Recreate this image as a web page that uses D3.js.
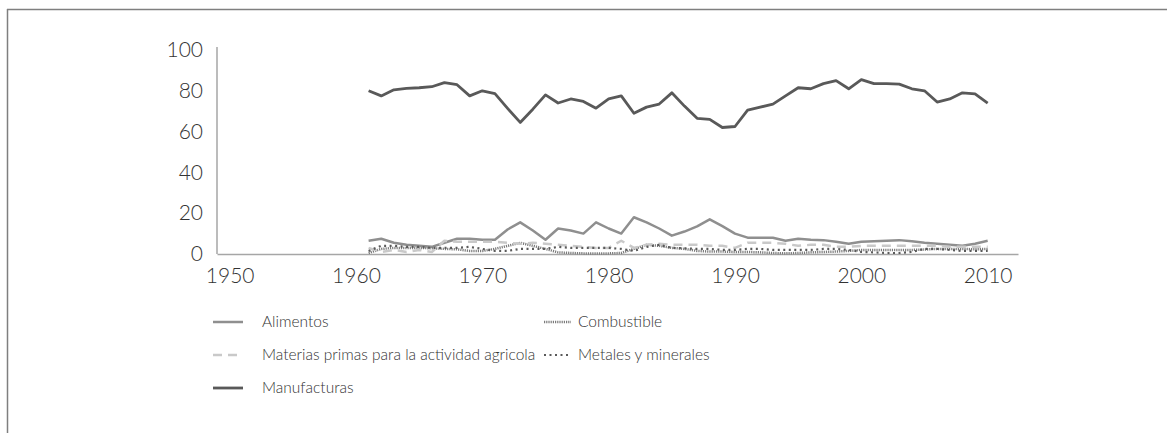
<!DOCTYPE html>
<head>
<meta charset="utf-8">
<style>
body { margin: 0; background: #fff; }
svg { display: block; }
.tick text, .legend text { font-family: "Lato", "Open Sans", sans-serif; font-weight: 300; fill: #333; }
</style>
</head>
<body>
<svg width="1167" height="433"></svg>
<script src="https://d3js.org/d3.v7.min.js"></script>
<script>
var years = d3.range(1961, 2011);
var xTicks = [1950, 1960, 1970, 1980, 1990, 2000, 2010];
var yTicks = [0, 20, 40, 60, 80, 100];

var alimentos = [6.5, 7.5, 5.5, 4.5, 4, 3.5, 5.5, 7.5, 7.5, 7,
  7, 12, 15.5, 11.5, 7, 12.5, 11.5, 10, 15.5, 12.5,
  10, 18, 15.5, 12.5, 9, 11, 13.5, 17, 13.7, 10,
  8, 8, 8, 6.5, 7.5, 7, 6.8, 6, 5, 6,
  6.3, 6.5, 6.8, 6.2, 5.5, 5, 4.5, 4, 5, 6.5];
var materias = [3, 1, 2, 1, 2, 1, 6.5, 6, 6, 6,
  6, 5.5, 5, 5.5, 5, 4.5, 4, 3.5, 3, 3,
  6.5, 3, 4.5, 5, 4.5, 4.5, 4.5, 4, 4, 3,
  5.5, 5.5, 5.5, 5, 4, 4.5, 4.5, 3.5, 3.5, 4,
  4, 4, 4, 4, 4, 4, 3.5, 3.5, 3.5, 3.5];
var combustible = [0.5, 2.5, 3, 3, 3, 2.8, 2.5, 2.3, 1.5, 1.5,
  2.5, 4, 5.5, 4, 2.5, 0.8, 0.5, 0.3, 0.3, 0.3,
  0.5, 2.5, 4.5, 4, 3, 2.5, 1.5, 1.2, 1.2, 1,
  1, 0.8, 0.5, 0.3, 0.5, 0.8, 1, 1.2, 1.5, 2,
  2, 2, 2, 2, 2.2, 2.5, 2.5, 2.5, 2.3, 2.5];
var metales = [1.5, 4, 4, 3.5, 3.5, 3, 3, 3, 3.5, 2.5,
  1.5, 1.5, 2.5, 2.5, 2.5, 3.5, 3, 3, 3, 3,
  2.5, 1.5, 3.5, 4.5, 3, 2.8, 2.5, 2.5, 2, 2,
  2.5, 2.5, 2, 2, 2, 2, 2.5, 2.5, 2, 1,
  0.8, 0.5, 0.5, 1, 2.5, 2.5, 2, 1.5, 1.5, 1.5];
var manufacturas = [80, 77.5, 80.5, 81.2, 81.5, 82, 84, 83, 77.5, 80,
  78.6, 71.4, 64.5, 71, 78, 74, 76, 74.8, 71.5, 76,
  77.5, 69, 72, 73.5, 79, 72.5, 66.5, 66, 62, 62.5,
  70.5, 72, 73.5, 77.5, 81.5, 81, 83.5, 85, 81, 85.5,
  83.5, 83.5, 83.3, 81, 80, 74.5, 76, 79, 78.5, 74];

var series = [
  {name: "Alimentos", values: alimentos, color: "#8f8f8f", width: 2.5, dash: null, col: 0, row: 0},
  {name: "Combustible", values: combustible, color: "#7a7a7a", width: 2.5, dash: "1.2,1", col: 1, row: 0},
  {name: "Materias primas para la actividad agricola", values: materias, color: "#c9c9c9", width: 2.5, dash: "9,6", col: 0, row: 1},
  {name: "Metales y minerales", values: metales, color: "#5a5a5a", width: 2.2, dash: "2,3.5", col: 1, row: 1},
  {name: "Manufacturas", values: manufacturas, color: "#595959", width: 2.8, dash: null, col: 0, row: 2}
];

var svg = d3.select("svg");

// outer frame (top and left edges only)
svg.append("line").attr("x1", 7).attr("x2", 1167).attr("y1", 9.5).attr("y2", 9.5)
  .attr("stroke", "#7f7f7f").attr("stroke-width", 1.5);
svg.append("line").attr("x1", 7.5).attr("x2", 7.5).attr("y1", 9).attr("y2", 433)
  .attr("stroke", "#7f7f7f").attr("stroke-width", 1.5);

var x = d3.scaleLinear().domain([1949, 2012.4]).range([217, 1018]);
var y = d3.scaleLinear().domain([0, 100]).range([254, 50]);

var xAxis = svg.append("g").attr("transform", "translate(0,254)")
  .call(d3.axisBottom(x).tickValues(xTicks).tickFormat(d3.format("d")).tickSize(0).tickPadding(14));
xAxis.select(".domain").attr("stroke", "#a6a6a6").attr("stroke-width", 1.5);
xAxis.selectAll("text").style("font-size", "21px");

var yAxis = svg.append("g").attr("transform", "translate(217,0)")
  .call(d3.axisLeft(y).tickValues(yTicks).tickSize(0).tickPadding(14));
yAxis.select(".domain").attr("stroke", "#a6a6a6").attr("stroke-width", 1.5).attr("d", "M0,47V254");
yAxis.selectAll("text").style("font-size", "21px");

var line = d3.line()
  .x(function(d, i) { return x(years[i]); })
  .y(function(d) { return y(d); });

svg.append("g").selectAll("path")
  .data(series)
  .enter().append("path")
    .attr("fill", "none")
    .attr("stroke", function(d) { return d.color; })
    .attr("stroke-width", function(d) { return d.width; })
    .attr("stroke-dasharray", function(d) { return d.dash; })
    .attr("stroke-linejoin", "round")
    .attr("d", function(d) { return line(d.values); });

var legend = svg.append("g").attr("class", "legend")
  .selectAll("g")
  .data(series)
  .enter().append("g")
    .attr("transform", function(d) { return "translate(" + (d.col ? 544 : 213) + "," + (322 + d.row * 33) + ")"; });
legend.append("line")
  .attr("x1", 0).attr("x2", function(d) { return d.col ? 27 : 30; })
  .attr("stroke", function(d) { return d.color; })
  .attr("stroke-width", function(d) { return d.width; })
  .attr("stroke-dasharray", function(d) { return d.dash; });
legend.append("text")
  .attr("x", function(d) { return d.col ? 34 : 49; })
  .attr("dy", "0.35em")
  .style("font-size", "15.5px")
  .text(function(d) { return d.name; });
</script>
</body>
